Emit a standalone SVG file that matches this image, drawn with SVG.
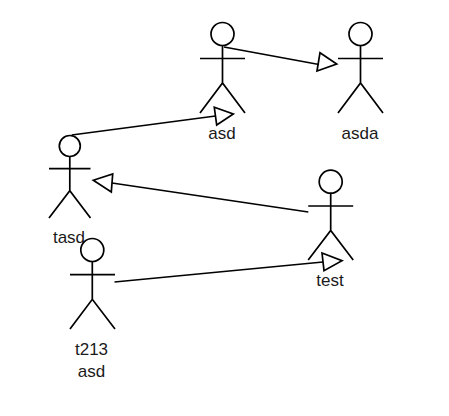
<svg xmlns="http://www.w3.org/2000/svg" width="449" height="416" viewBox="0 0 449 416">
<style>
.s{fill:none;stroke:#000;stroke-width:1.7;stroke-linejoin:miter}
.h{fill:#fff;stroke:#000;stroke-width:1.7}
.t{font-family:"Liberation Sans",Arial,sans-serif;font-size:17px;fill:#1a1a1a;text-anchor:middle}
</style>
<rect width="449" height="416" fill="#fff"/>
<g id="actor-asd">
<circle class="h" cx="222.5" cy="34" r="11.5"/>
<path class="s" d="M222.5 45.5V83M200 58.5H245M200 113L222.5 83L245 113"/>
<text class="t" x="222" y="138.500">asd</text>
</g>
<g id="actor-asda">
<circle class="h" cx="360.500" cy="34" r="11.500"/>
<path class="s" d="M360.500 45.500V83M338 58.500H383M338 113L360.500 83L383 113"/>
<text class="t" x="360" y="138.500">asda</text>
</g>
<g id="actor-tasd">
<circle class="h" cx="69.800" cy="146" r="10.500"/>
<path class="s" d="M69.800 156.500V190.700M49 168.700H90.500M49 218L69.800 190.700L90.500 218"/>
<text class="t" x="69" y="243">tasd</text>
</g>
<g id="actor-test">
<circle class="h" cx="330.700" cy="181.700" r="11.500"/>
<path class="s" d="M330.700 193.200V230.500M308.200 206H353.200M308.200 260L330.700 230.500L353.200 260"/>
<text class="t" x="330" y="286">test</text>
</g>
<g id="actor-t213">
<path class="s" d="M92.300 261.500V299.300M70 274.700H115M70 329L92.300 299.300L115 329"/>
<circle class="s" cx="92.300" cy="250" r="11.500"/>
<text class="t" x="91.500" y="355">t213</text>
<text class="t" x="91.500" y="376.700">asd</text>
</g>
<g id="connectors">
<path class="s" d="M224 47L319 64.500"/>
<path class="s" d="M317 71L320 52.700L336.700 64Z"/>
<path class="s" d="M71.700 135L215.500 116"/>
<path class="s" d="M214.300 107.300L216.700 125L233.300 114Z"/>
<path class="s" d="M308.300 212L112 183"/>
<path class="s" d="M93.300 180.300L112.700 174L111.300 192Z"/>
<path class="s" d="M114.500 282L323 262"/>
<path class="s" d="M322 253L324 270.700L342 260.700Z"/>
</g>
</svg>
